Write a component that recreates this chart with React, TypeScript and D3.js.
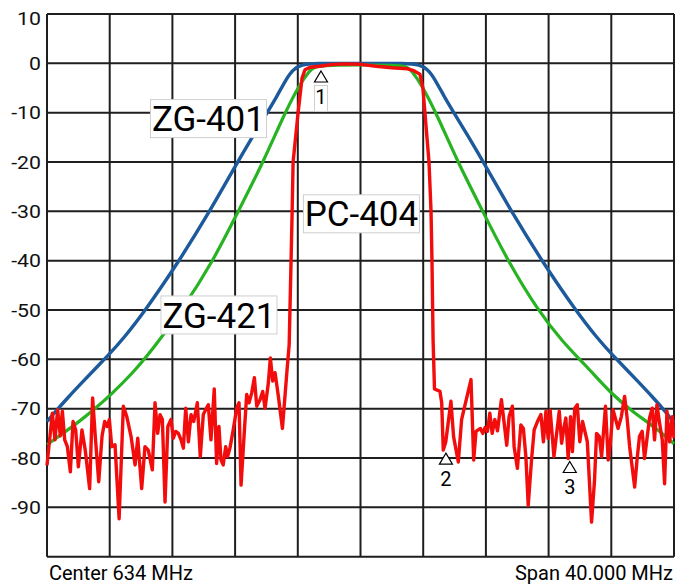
import * as d3 from "d3";
import React from "react";

// frequency axis: Center 634 MHz, span 40 MHz
const freqGrid = [614, 618, 622, 626, 630, 634, 638, 642, 646, 650, 654];
const levelGrid = [10, 0, -10, -20, -30, -40, -50, -60, -70, -80, -90, -100];
const levelLabels = ["10", "0", "-10", "-20", "-30", "-40", "-50", "-60", "-70", "-80", "-90"];

// ZG-401 (blue)
const blueFreq = [
  614.0, 614.62, 615.26, 616.32, 618.02, 618.87, 620.25, 622.38, 624.29, 625.89, 627.16, 628.12, 628.65, 629.29, 629.71,
  630.25, 631.0, 634.0, 637.0, 637.75, 638.29, 638.71, 639.35, 639.88, 640.84, 642.11, 643.71, 645.62, 647.75, 649.13,
  649.98, 651.68, 652.74, 653.38, 654.0,
];
const blueDb = [
  -72.6, -70.3, -68, -64.4, -58.8, -55.8, -50.2, -40.3, -30.5, -21.5, -14.6, -9.6, -6.8, -3.0, -1.2,
  -0.25, 0, 0, 0, -0.25, -1.2, -3.0, -6.8, -9.6, -14.6, -21.5, -30.5, -40.3, -50.2, -55.8,
  -58.8, -64.4, -68, -70.3, -72.8,
];

// ZG-421 (green)
const greenFreq = [
  614.0, 616.0, 617.06, 618.13, 619.4, 620.68, 622.61, 624.61, 626.2, 627.8, 629.18, 630.14, 630.78, 631.0, 632.0, 634.0,
  636.0, 637.0, 637.22, 637.86, 638.82, 640.2, 641.8, 643.39, 645.3, 646.9, 648.4, 650.0, 651.4, 652.8, 654.0,
];
const greenDb = [
  -77.3, -72.8, -70, -67, -63, -58.2, -50, -40, -30, -20, -10, -4.1, -1.4, -0.7, -0.4, -0.3,
  -0.4, -0.6, -1.4, -4.1, -10, -20, -30, -40, -50, -56.5, -61.3, -67, -70.7, -73.8, -77.1,
];

// PC-404 (red)
const redFreq = [
  614.0, 614.34, 614.51, 614.68, 614.85, 614.98, 615.13, 615.3, 615.49, 615.66, 615.83, 616.0, 616.23, 616.44, 616.72, 616.91,
  617.08, 617.3, 617.51, 617.68, 617.83, 617.98, 618.13, 618.34, 618.6, 618.87, 619.09, 619.36, 619.62, 619.79, 620.04, 620.25,
  620.46, 620.72, 620.89, 621.06, 621.21, 621.36, 621.53, 621.71, 621.91, 622.06, 622.21, 622.38, 622.55, 622.7, 622.85, 623.02,
  623.19, 623.36, 623.59, 623.78, 623.97, 624.12, 624.29, 624.46, 624.67, 624.82, 624.97, 625.1, 625.24, 625.4, 625.52, 625.67,
  625.88, 626.1, 626.25, 626.38, 626.57, 626.74, 626.89, 627.06, 627.23, 627.38, 627.59, 627.76, 627.91, 628.12, 628.25, 628.4,
  628.55, 628.76, 629.02, 629.3, 629.45, 629.57, 629.64, 629.7, 630.02, 630.27, 630.46, 630.78, 631.4, 632.0, 633.0, 634.0,
  635.0, 636.0, 637.0, 637.4, 637.79, 637.98, 638.11, 638.37, 638.5, 638.56, 638.63, 638.72, 639.07, 639.18, 639.28, 639.44,
  639.77, 639.94, 640.24, 640.45, 640.62, 641.05, 641.22, 641.37, 641.65, 641.8, 641.95, 642.1, 642.25, 642.4, 642.57, 642.74,
  642.99, 643.33, 643.48, 643.69, 643.8, 644.01, 644.23, 644.39, 644.55, 644.7, 644.91, 645.08, 645.29, 645.51, 645.67, 645.83,
  645.97, 646.1, 646.34, 646.68, 646.83, 646.97, 647.1, 647.25, 647.4, 647.52, 647.67, 647.83, 647.99, 648.17, 648.47, 648.74,
  648.93, 649.06, 649.23, 649.38, 649.63, 649.8, 649.94, 650.11, 650.43, 650.64, 650.85, 651.0, 651.17, 651.49, 651.64, 651.8,
  651.97, 652.12, 652.44, 652.61, 652.76, 652.91, 653.08, 653.25, 653.4, 653.55, 653.72, 653.89, 654.0,
];
const redDb = [
  -81.5, -70.9, -76.3, -70.2, -75.5, -70.5, -76.3, -77.7, -82.8, -72.6, -74.3, -81.8, -74.3, -78.4, -86.2, -67.8,
  -75.6, -84.8, -75.6, -72.6, -73.6, -72.2, -77.7, -77.3, -92.3, -69.5, -71.6, -75.6, -81.4, -76, -86.2, -77.7,
  -78.4, -82.4, -68.8, -75, -71.2, -72.2, -88.9, -73.6, -72.2, -76, -74.6, -75, -76.3, -78, -69.9, -76.7,
  -71.2, -72.6, -68.8, -79.7, -71.2, -70.2, -69.2, -76.3, -66, -81.1, -73.6, -80.4, -81.4, -77.7, -79.7, -78,
  -74.3, -69.9, -68.8, -85.5, -75.6, -67.1, -68.8, -66.8, -63.7, -69.5, -68.2, -66.5, -69.9, -64.8, -59.7, -64.4,
  -62.7, -67.5, -74, -62.7, -57, -40, -30, -20, -10, -3, -1.3, -0.8, -0.6, -0.3, -0.1, -0.2,
  -0.6, -0.9, -1.1, -1.5, -2.2, -5, -10, -20, -30, -40, -56, -66, -66.5, -68.8, -78.4, -76.7,
  -68.5, -75.7, -80.8, -72.2, -69.9, -64.1, -80.4, -74.6, -74, -75, -73.8, -74.6, -70.9, -75, -72.2, -74.5,
  -68.2, -77.4, -71.6, -69.5, -77.7, -82.1, -73.3, -74, -79.7, -89.6, -80.4, -74.3, -72.6, -71.2, -76.7, -70.5,
  -76, -70.3, -79.7, -70.5, -77, -74, -71.9, -80.1, -71.6, -78.7, -69.9, -69.2, -76.7, -72.6, -76.7, -93,
  -84.5, -75, -75.6, -79.7, -69.5, -80.4, -77, -70.2, -74, -71.6, -67.5, -71.6, -77.7, -85.9, -80.4, -75.6,
  -74.6, -80.1, -71.9, -69.9, -76.3, -69.2, -72.9, -76.3, -85.2, -70.5, -76.7, -71.6, -76,
];

// trace labels (centre position in data units)
const traceNames = ["ZG-401", "PC-404", "ZG-421"];
const traceLabelFreq = [624.3, 634.06, 624.97];
const traceLabelDb = [-11.2, -30.5, -51];

// markers
const markerNames = ["1", "2", "3"];
const markerFreq = [631.48, 639.45, 647.35];
const markerDb = [-1.55, -79, -80.7];

const W = 675;
const H = 585;

const x = d3.scaleLinear().domain([614, 654]).range([47, 674]);
const y = d3.scaleLinear().domain([-100, 10]).range([556.7, 14]);

const toPoints = (f: number[], v: number[]) => f.map((d, i) => [d, v[i]] as [number, number]);

const smoothLine = d3
  .line<[number, number]>()
  .x((d) => x(d[0]))
  .y((d) => y(d[1]))
  .curve(d3.curveBasis);

const rawLine = d3
  .line<[number, number]>()
  .x((d) => x(d[0]))
  .y((d) => y(d[1]));

const FONT = "Roboto, 'Noto Sans', sans-serif";

const App = () => {
  const gridColor = "#1e1e1e";
  return (
    <svg
      width={W}
      height={H}
      style={{ position: "absolute", left: 0, top: 0, background: "#fff" }}
      fontFamily={FONT}
    >
      {/* grid */}
      {freqGrid.map((f) => (
        <line key={"v" + f} x1={x(f)} x2={x(f)} y1={y(10)} y2={y(-100)} stroke={gridColor} strokeWidth={2} />
      ))}
      {levelGrid.map((v) => (
        <line key={"h" + v} x1={x(614)} x2={x(654)} y1={y(v)} y2={y(v)} stroke={gridColor} strokeWidth={2} />
      ))}
      {levelLabels.map((t) => (
        <text
          key={"t" + t}
          transform={`translate(41,${y(+t) + (t === "10" ? 4 : 0)}) scale(1.15,1)`}
          dy="0.36em"
          textAnchor="end"
          fontSize={18.5}
          fill="#111"
        >
          {t}
        </text>
      ))}

      {/* traces */}
      <path d={smoothLine(toPoints(blueFreq, blueDb)) || ""} fill="none" stroke="#1c5a9c" strokeWidth={3.4} strokeLinejoin="round" />
      <path d={smoothLine(toPoints(greenFreq, greenDb)) || ""} fill="none" stroke="#27b322" strokeWidth={3.2} strokeLinejoin="round" />
      <path d={rawLine(toPoints(redFreq, redDb)) || ""} fill="none" stroke="#f20c0c" strokeWidth={3.4} strokeLinejoin="round" />

      {/* trace labels */}
      {traceNames.map((n, i) => {
        const cx = x(traceLabelFreq[i]);
        const cy = y(traceLabelDb[i]);
        return (
          <g key={n}>
            <rect x={cx - 58} y={cy - 19} width={116} height={38} fill="#fff" stroke="#cfcfcf" strokeWidth={1} />
            <text x={cx} y={cy} dy="0.36em" textAnchor="middle" fontSize={35} fill="#000">
              {n}
            </text>
          </g>
        );
      })}

      {/* markers */}
      {markerNames.map((m, i) => {
        const mx = x(markerFreq[i]);
        const my = y(markerDb[i]);
        return (
          <g key={"m" + m}>
            {i === 0 && <rect x={mx - 6.5} y={my + 14.5} width={13} height={26} fill="#fff" stroke="#cfcfcf" strokeWidth={1} />}
            <path
              d={`M${mx},${my} L${mx + 6.5},${my + 11} L${mx - 6.5},${my + 11} Z`}
              fill="#fff"
              stroke="#000"
              strokeWidth={1.2}
            />
            <text x={mx} y={my + 33} textAnchor="middle" fontSize={20} fill="#000">
              {m}
            </text>
          </g>
        );
      })}

      {/* footer */}
      <text x={49} y={580.3} fontSize={20} fill="#000">
        Center 634 MHz
      </text>
      <text x={673} y={580.3} textAnchor="end" fontSize={20} fill="#000">
        Span 40.000 MHz
      </text>
    </svg>
  );
};

export default App;
